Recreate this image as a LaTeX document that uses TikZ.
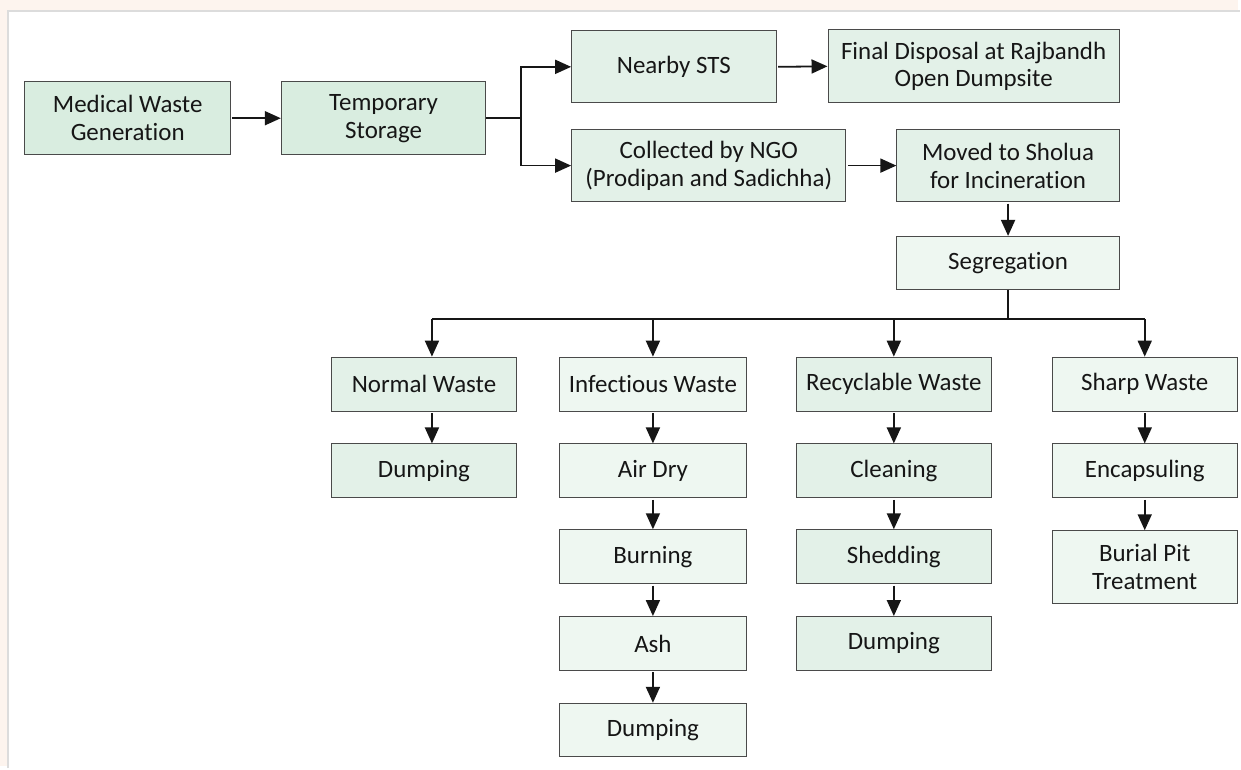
\documentclass[tikz,border=0pt]{standalone}
\usepackage{fontspec}
\setmainfont{Carlito}[Ligatures=NoCommon]
\usetikzlibrary{arrows.meta,calc}

\definecolor{pagebg}{HTML}{FDF4EE}
\definecolor{panelrule}{HTML}{DCDCDC}
\definecolor{fillA}{HTML}{D9EDE0}
\definecolor{fillB}{HTML}{E3F1E8}
\definecolor{fillC}{HTML}{EEF7F1}
\definecolor{edge}{HTML}{4A4A4A}
\definecolor{ink}{HTML}{161616}

\tikzset{
  box/.style={draw=edge, line width=1pt, text=ink, align=center,
    inner sep=0pt, font=\fontsize{25}{28}\selectfont},
  boxA/.style={box, fill=fillA},
  boxB/.style={box, fill=fillB},
  boxC/.style={box, fill=fillC},
  arr/.style={draw=ink, line width=1.8pt, shorten <=1.5pt,
    -{Triangle[length=16pt,width=14pt]}},
  ln/.style={draw=ink, line width=1.8pt},
}

\begin{document}
\begin{tikzpicture}[x=1pt,y=-1pt]
  % page and panel
  \fill[pagebg] (0,0) rectangle (1241,768);
  \fill[white] (8,11) rectangle (1241,768);
  \draw[panelrule, line width=2pt] (8,770) -- (8,11) -- (1243,11);
  \useasboundingbox (0,0) rectangle (1241,768);

  % upper flow
  \node[boxA, minimum width=206pt, minimum height=73pt] (gen) at (128,118.5) {Medical Waste\\Generation};
  \node[boxA, minimum width=205pt, minimum height=73pt] (temp) at (384.5,118.5) {Temporary\\Storage};
  \node[boxB, minimum width=205pt, minimum height=72pt] (sts) at (675.5,67) {Nearby STS};
  \node[boxB, minimum width=292pt, minimum height=73pt] (final) at (976,66.5) {Final Disposal at Rajbandh\\Open Dumpsite};
  \node[boxB, minimum width=275pt, minimum height=72pt] (ngo) at (710.5,166) {Collected by NGO\\(Prodipan and Sadichha)};
  \node[boxB, minimum width=223pt, minimum height=72pt] (sholua) at (1010.5,166) {Moved to Sholua\\for Incineration};
  \node[boxC, minimum width=223pt, minimum height=53pt] (seg) at (1010.5,263.5) {Segregation};

  % normal waste column
  \node[boxB, minimum width=186pt, minimum height=54pt] (nw) at (425,385) {Normal Waste};
  \node[boxB, minimum width=186pt, minimum height=54pt] (nwd) at (425,472) {Dumping};

  % infectious waste column
  \node[boxC, minimum width=187pt, minimum height=54pt] (iw) at (654.5,385) {Infectious Waste};
  \node[boxC, minimum width=187pt, minimum height=54pt] (air) at (654.5,472) {Air Dry};
  \node[boxC, minimum width=187pt, minimum height=54pt] (burn) at (654.5,558) {Burning};
  \node[boxC, minimum width=187pt, minimum height=54pt] (ash) at (654.5,645) {Ash};
  \node[boxC, minimum width=187pt, minimum height=53pt] (iwd) at (654.5,731.5) {Dumping};

  % recyclable waste column
  \node[boxB, minimum width=196pt, minimum height=54pt] (rw) at (896,385) {Recyclable Waste};
  \node[boxB, minimum width=196pt, minimum height=54pt] (clean) at (896,472) {Cleaning};
  \node[boxB, minimum width=196pt, minimum height=54pt] (shed) at (896,558) {Shedding};
  \node[boxB, minimum width=196pt, minimum height=54pt] (rwd) at (896,645) {Dumping};

  % sharp waste column
  \node[boxC, minimum width=185pt, minimum height=54pt] (sw) at (1147.5,385) {Sharp Waste};
  \node[boxC, minimum width=185pt, minimum height=54pt] (enc) at (1147.5,472) {Encapsuling};
  \node[boxC, minimum width=185pt, minimum height=73pt] (pit) at (1147.5,568.5) {Burial Pit\\Treatment};

  % connectors: upper flow
  \draw[arr] (gen.east) -- (temp.west);
  \coordinate (fork) at (522,118.5);
  \draw[ln] (temp.east) -- (fork);
  \draw[arr, shorten <=0pt] (fork) |- (sts.west);
  \draw[arr, shorten <=0pt] (fork) |- (ngo.west);
  \draw[arr] (sts.east) -- (final.west);
  \draw[arr] (ngo.east) -- (sholua.west);
  \draw[arr] (sholua.south) -- (seg.north);

  % distribution bus below segregation
  \coordinate (bus) at (1010.5,320);
  \draw[ln] (seg.south) -- (bus);
  \draw[ln] (bus -| 433,0) -- (bus -| sw.north);
  \draw[arr, shorten <=0pt] (bus -| 433,0) -- ([xshift=8pt]nw.north);
  \draw[arr, shorten <=0pt] (bus -| iw.north) -- (iw.north);
  \draw[arr, shorten <=0pt] (bus -| rw.north) -- (rw.north);
  \draw[arr, shorten <=0pt] (bus -| sw.north) -- (sw.north);

  % column connectors
  \draw[arr] ([xshift=8pt]nw.south) -- ([xshift=8pt]nwd.north);
  \draw[arr] (iw) -- (air);
  \draw[arr] (air) -- (burn);
  \draw[arr] (burn) -- (ash);
  \draw[arr] (ash) -- (iwd);
  \draw[arr] (rw) -- (clean);
  \draw[arr] (clean) -- (shed);
  \draw[arr] (shed) -- (rwd);
  \draw[arr] (sw) -- (enc);
  \draw[arr] (enc) -- (pit);
\end{tikzpicture}
\end{document}
